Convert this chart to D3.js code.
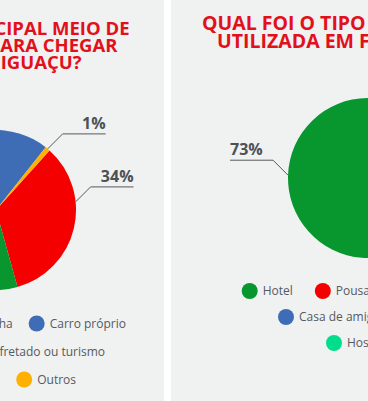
<!DOCTYPE html>
<html>
<head>
<meta charset="utf-8">
<script src="https://cdn.jsdelivr.net/npm/d3@7"></script>
<style>
  html, body { margin: 0; padding: 0; background: #ffffff; }
  svg { display: block; }
  .title { font-family: "Open Sans", sans-serif; font-weight: 700; fill: #e2101a; }
  .pct { font-family: "Open Sans", sans-serif; font-weight: 700; font-size: 16px; fill: #4d5156; }
  .leader { fill: none; stroke: #55595e; stroke-width: 1; }
  .legend-text { font-family: "Open Sans", sans-serif; font-size: 12px; fill: #555a5f; }
</style>
</head>
<body>
<div id="wrapper"></div>
<script>
// left chart - meio de transporte
const leftTitle = ["QUAL FOI O PRINCIPAL MEIO DE", "TRANSPORTE USADO PARA CHEGAR", "A FOZ DO IGUAÇU?"];
const leftCategories = ["Avião", "Ônibus de linha", "Ônibus fretado ou turismo", "Carro próprio", "Outros"];
const leftValues = [34, 31, 10, 24, 1];
const leftColors = ["#f50000", "#08962f", "#00dd8d", "#3f6db5", "#ffb000"];
const leftLegendRows = [["Avião", "Ônibus de linha", "Carro próprio"], ["Ônibus fretado ou turismo"], ["Outros"]];

// right chart - hospedagem
const rightTitle = ["QUAL FOI O TIPO DE HOSPEDAGEM", "UTILIZADA EM FOZ DO IGUAÇU?"];
const rightCategories = ["Hotel", "Pousada", "Apartamento", "Casa de amigos ou parentes", "Hostel"];
const rightValues = [73, 12, 4, 8, 3];
const rightColors = ["#08962f", "#f50000", "#ffb000", "#3f6db5", "#00dd8d"];
const rightLegendRows = [["Hotel", "Pousada", "Apartamento"], ["Casa de amigos ou parentes"], ["Hostel"]];

const width = 368;
const height = 401;
const deg = Math.PI / 180;

const svg = d3.select("#wrapper")
  .append("svg")
  .attr("width", width)
  .attr("height", height);

svg.append("rect")
  .attr("width", width)
  .attr("height", height)
  .attr("fill", "#ffffff");

function drawPanel(cfg) {
  const g = svg.append("g");

  // panel background
  g.append("rect")
    .attr("x", cfg.panelX)
    .attr("y", 0)
    .attr("width", cfg.panelWidth)
    .attr("height", height)
    .attr("fill", "#f0f1f1");

  // title
  cfg.title.forEach((line, i) => {
    g.append("text")
      .attr("class", "title")
      .style("font-size", cfg.titleSize + "px")
      .attr("x", cfg.titleX[i])
      .attr("y", cfg.titleY + i * cfg.titleLine)
      .attr("text-anchor", cfg.titleAnchor)
      .text(line);
  });

  // pie
  const color = d3.scaleOrdinal().domain(cfg.categories).range(cfg.colors);
  const data = cfg.categories.map((c, i) => ({ category: c, value: cfg.values[i] }));

  const pie = d3.pie()
    .sort(null)
    .value(d => d.value)
    .startAngle(cfg.startDeg * deg)
    .endAngle(cfg.startDeg * deg + 2 * Math.PI);

  const arc = d3.arc().innerRadius(0).outerRadius(cfg.radius);

  const pieG = g.append("g")
    .attr("transform", `translate(${cfg.cx}, ${cfg.cy})`);

  const arcs = pie(data);

  pieG.selectAll("path")
    .data(arcs)
    .join("path")
    .attr("d", arc)
    .attr("fill", d => color(d.data.category));

  // labels with leader lines
  arcs.forEach((d, i) => {
    const a = (d.startAngle + d.endAngle) / 2 + (cfg.labelNudge[i] || 0) * deg;
    const side = Math.sin(a) >= 0 ? 1 : -1;
    const x0 = Math.sin(a) * cfg.radius;
    const y0 = -Math.cos(a) * cfg.radius;
    const x1 = x0 + side * 15;
    const y1 = y0 - 15;
    const x2 = x1 + side * 43;
    pieG.append("path")
      .attr("class", "leader")
      .attr("d", d3.line()([[x0, y0], [x1, y1], [x2, y1]]));
    pieG.append("text")
      .attr("class", "pct")
      .attr("x", x2)
      .attr("y", y1 - 5)
      .attr("text-anchor", side > 0 ? "end" : "start")
      .text(d.data.value + "%");
  });

  // legend
  const r = 8;
  cfg.legendRows.forEach((row, ri) => {
    const y = cfg.legendY + ri * cfg.legendGap;
    const rowG = g.append("g");
    const items = row.map(name => {
      const t = rowG.append("text")
        .attr("class", "legend-text")
        .attr("dy", "0.35em")
        .attr("y", y)
        .text(name);
      return { name, t, w: 2 * r + 5 + t.node().getComputedTextLength() };
    });
    const total = d3.sum(items, d => d.w) + cfg.legendSpace * (items.length - 1);
    let x = cfg.legendAnchor === "end" ? cfg.legendX[ri] - total : cfg.legendX[ri];
    items.forEach(it => {
      rowG.append("circle")
        .attr("cx", x + r)
        .attr("cy", y)
        .attr("r", r)
        .attr("fill", color(it.name));
      it.t.attr("x", x + 2 * r + 5);
      x += it.w + cfg.legendSpace;
    });
  });
}

drawPanel({
  panelX: -204, panelWidth: 368,
  title: leftTitle, titleSize: 18.5, titleX: [129.5, 117.5, 81.5], titleY: 35, titleLine: 17.2, titleAnchor: "end",
  categories: leftCategories, values: leftValues, colors: leftColors,
  cx: -4, cy: 210, radius: 80, startDeg: 42,
  labelNudge: [-19, 0, 0, 0, 0],
  legendRows: leftLegendRows, legendAnchor: "end", legendX: [126, 105, 76], legendY: 323.5, legendGap: 28, legendSpace: 16
});

drawPanel({
  panelX: 171, panelWidth: 368,
  title: rightTitle, titleSize: 19.5, titleX: [202, 217], titleY: 30, titleLine: 17.5, titleAnchor: "start",
  categories: rightCategories, values: rightValues, colors: rightColors,
  cx: 368, cy: 178, radius: 80, startDeg: 140.6,
  labelNudge: [0, 0, 0, 0, 0],
  legendRows: rightLegendRows, legendAnchor: "start", legendX: [241.7, 278, 326], legendY: 291, legendGap: 26, legendSpace: 22
});
</script>
</body>
</html>
